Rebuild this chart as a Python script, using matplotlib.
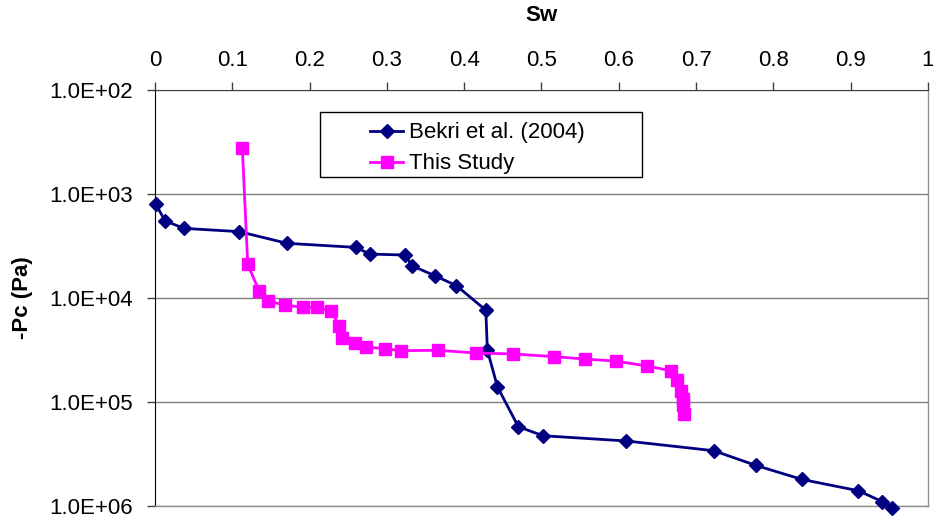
import numpy as np
import matplotlib
matplotlib.use('Agg')
import matplotlib.pyplot as plt
from matplotlib.patches import Rectangle
from matplotlib.ticker import FuncFormatter, FixedLocator, NullLocator

plt.rcParams['font.family'] = ['Liberation Sans', 'DejaVu Sans']

# Bekri et al. (2004) drainage curve
sw_bekri = [0.001, 0.013, 0.0375, 0.109, 0.171, 0.260, 0.278, 0.323, 0.333, 0.362,
            0.390, 0.428, 0.430, 0.443, 0.470, 0.502, 0.610, 0.723, 0.777, 0.837,
            0.910, 0.941, 0.953]
pc_bekri = [1250, 1810, 2140, 2300, 2980, 3260, 3780, 3860, 4920, 6100,
            7600, 13100, 31600, 71300, 172600, 211000, 237000, 294000, 406000, 555000,
            713000, 908000, 1047000]

# this study
sw_study = [0.113, 0.120, 0.1345, 0.1466, 0.168, 0.192, 0.210, 0.228, 0.238, 0.2423,
            0.2587, 0.2734, 0.2975, 0.318, 0.366, 0.415, 0.463, 0.516, 0.556, 0.596,
            0.637, 0.668, 0.675, 0.681, 0.6825, 0.6835, 0.685]
pc_study = [359, 4740, 8510, 10700, 11700, 12300, 12300, 13300, 18500, 24300,
            27100, 29600, 30700, 32100, 31800, 33800, 34500, 36600, 38600, 40400,
            45100, 50100, 61700, 77600, 93300, 107000, 129000]

x_ticks = [0, 0.1, 0.2, 0.3, 0.4, 0.5, 0.6, 0.7, 0.8, 0.9, 1]
y_ticks = [1e2, 1e3, 1e4, 1e5, 1e6]

fs = 16

fig = plt.figure(figsize=(9.33, 5.2), dpi=100)
ax = fig.add_axes([0.1661, 0.0269, 0.8285, 0.8000])

ax.plot(sw_bekri, pc_bekri, color='#000080', lw=2, marker='D', ms=7.5,
        label='Bekri et al. (2004)', clip_on=False, zorder=3)
ax.plot(sw_study, pc_study, color='#FF00FF', lw=2, marker='s', ms=8,
        label='This Study', clip_on=False, zorder=3)

ax.set_yscale('log')
ax.set_ylim(1e6, 1e2)
ax.set_xlim(0, 1)

ax.yaxis.set_major_locator(FixedLocator(y_ticks))
ax.yaxis.set_minor_locator(NullLocator())
ax.yaxis.set_major_formatter(FuncFormatter(lambda v, p: '{:.1E}'.format(v)))
ax.xaxis.set_major_locator(FixedLocator(x_ticks))
ax.xaxis.set_major_formatter(FuncFormatter(lambda v, p: '{:g}'.format(v)))

ax.xaxis.tick_top()
ax.xaxis.set_label_position('top')
ax.tick_params(axis='x', direction='out', length=6, width=1, labelsize=fs, pad=8, color='#404040')
ax.tick_params(axis='y', direction='out', length=6, width=1, labelsize=fs, pad=10, color='#404040')

ax.grid(axis='y', color='#808080', lw=1)
ax.set_axisbelow(True)

for side in ['right', 'bottom']:
    ax.spines[side].set_color('#909090')
    ax.spines[side].set_linewidth(1)
ax.spines['left'].set_color('black')
ax.spines['top'].set_color('#404040')

ax.set_xlabel('Sw', fontsize=fs, fontweight='bold')
ax.xaxis.set_label_coords(0.5, 1.165)
ax.set_ylabel('-Pc (Pa)', fontsize=fs, fontweight='bold')
ax.yaxis.set_label_coords(-0.158, 0.5)

# legend box drawn separately so the entries sit with wide left padding
ax.add_patch(Rectangle((0.2135, 0.791), 0.4165, 0.156, transform=ax.transAxes,
                       facecolor='white', edgecolor='black', lw=1, zorder=4))
leg = ax.legend(loc='upper left', bbox_to_anchor=(0.278, 0.922), fontsize=fs,
                frameon=False, borderpad=0, borderaxespad=0,
                handlelength=1.5, handletextpad=0.25, labelspacing=0.45)
leg.set_zorder(5)

fig.savefig('out.png', dpi=100)
